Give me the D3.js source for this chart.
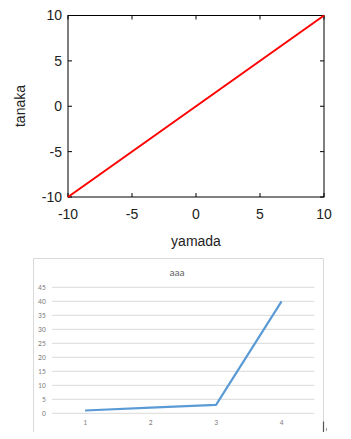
<!DOCTYPE html>
<html><head><meta charset="utf-8">
<script src="https://cdn.jsdelivr.net/npm/d3@7"></script>
<style>html,body{margin:0;padding:0;background:#fff;}svg{display:block;}</style>
</head><body>
<script>
// Top chart data (y = x line)
const topX = [-10, 10];
const topY = [-10, 10];
const topTicks = [-10, -5, 0, 5, 10];
const topXLabel = "yamada";
const topYLabel = "tanaka";

// Bottom chart data
const categories = ["1", "2", "3", "4"];
const values = [1, 2, 3, 40];
const bottomTicks = [0, 5, 10, 15, 20, 25, 30, 35, 40, 45];
const bottomTitle = "aaa";

const svg = d3.select("body").append("svg").attr("width", 351).attr("height", 439);

// ---------- Top chart ----------
const L = 68, R = 324, T = 15.5, B = 197;
const x1 = d3.scaleLinear().domain([-10, 10]).range([L, R]);
const y1 = d3.scaleLinear().domain([-10, 10]).range([B, T]);
const g1 = svg.append("g");
const font1 = "'Liberation Sans', Arial, sans-serif";

g1.append("rect").attr("x", L).attr("y", T).attr("width", R - L).attr("height", B - T)
  .attr("fill", "none").attr("stroke", "#000").attr("stroke-width", 1);

const tl = 4;
topTicks.forEach(v => {
  g1.append("line").attr("x1", L).attr("x2", L + tl).attr("y1", y1(v)).attr("y2", y1(v)).attr("stroke", "#000");
  g1.append("line").attr("x1", R).attr("x2", R - tl).attr("y1", y1(v)).attr("y2", y1(v)).attr("stroke", "#000");
  g1.append("line").attr("y1", B).attr("y2", B - tl).attr("x1", x1(v)).attr("x2", x1(v)).attr("stroke", "#000");
  g1.append("line").attr("y1", T).attr("y2", T + tl).attr("x1", x1(v)).attr("x2", x1(v)).attr("stroke", "#000");
  g1.append("text").attr("x", L - 6).attr("y", y1(v)).attr("dy", "0.35em").attr("text-anchor", "end")
    .attr("font-family", font1).attr("font-size", 14).attr("fill", "#222").text(v);
  g1.append("text").attr("x", x1(v)).attr("y", 214).attr("dy", "0.35em").attr("text-anchor", "middle")
    .attr("font-family", font1).attr("font-size", 14).attr("fill", "#222").text(v);
});

const line1 = d3.line().x(d => x1(d[0])).y(d => y1(d[1]));
g1.append("path").datum(topX.map((v, i) => [v, topY[i]])).attr("d", line1)
  .attr("fill", "none").attr("stroke", "#ff0000").attr("stroke-width", 2);

g1.append("text").attr("x", 196).attr("y", 241).attr("dy", "0.35em").attr("text-anchor", "middle")
  .attr("font-family", font1).attr("font-size", 14).attr("fill", "#222").text(topXLabel);
g1.append("text").attr("transform", "translate(20,106) rotate(-90)").attr("dy", "0.35em").attr("text-anchor", "middle")
  .attr("font-family", font1).attr("font-size", 14).attr("fill", "#222").text(topYLabel);

// ---------- Bottom chart ----------
const g2 = svg.append("g");
const font2 = "Calibri, Carlito, 'Liberation Sans', Arial, sans-serif";
const bx0 = 33.5, bx1 = 323.5, by0 = 258.5, by1 = 432;
g2.append("path").attr("d", `M${bx0},${by1}V${by0}H${bx1}V${by1}`)
  .attr("fill", "none").attr("stroke", "#d9d9d9").attr("stroke-width", 1);
g2.append("line").attr("x1", bx1).attr("x2", bx1).attr("y1", 421.5).attr("y2", 432)
  .attr("stroke", "#555").attr("stroke-width", 1.2);
g2.append("line").attr("x1", 326.5).attr("x2", 326.5).attr("y1", 428).attr("y2", 431)
  .attr("stroke", "#888").attr("stroke-width", 0.8);

const x2 = d3.scaleBand().domain(categories).range([52.3, 314.3]);
const y2 = d3.scaleLinear().domain([0, 45]).range([413.3, 287.3]);

bottomTicks.forEach(v => {
  g2.append("line").attr("x1", 52.3).attr("x2", 314.3).attr("y1", y2(v)).attr("y2", y2(v))
    .attr("stroke", "#d9d9d9").attr("stroke-width", 1);
  g2.append("text").attr("x", 45.7).attr("y", y2(v)).attr("dy", "0.35em").attr("text-anchor", "end")
    .attr("font-family", font2).attr("font-size", 7.5).attr("fill", "#808080").text(v);
});
categories.forEach(c => {
  g2.append("text").attr("x", x2(c) + x2.bandwidth() / 2).attr("y", 422.7).attr("dy", "0.35em")
    .attr("text-anchor", "middle").attr("font-family", font2).attr("font-size", 7.5).attr("fill", "#808080").text(c);
});

const line2 = d3.line().x((d, i) => x2(categories[i]) + x2.bandwidth() / 2).y(d => y2(d));
g2.append("path").datum(values).attr("d", line2).attr("fill", "none")
  .attr("stroke", "#5b9bd5").attr("stroke-width", 2.2).attr("stroke-linejoin", "round");

g2.append("text").attr("x", 177).attr("y", 272.5).attr("dy", "0.35em").attr("text-anchor", "middle")
  .attr("font-family", font2).attr("font-size", 10.5).attr("fill", "#666").text(bottomTitle);
</script>
</body></html>
